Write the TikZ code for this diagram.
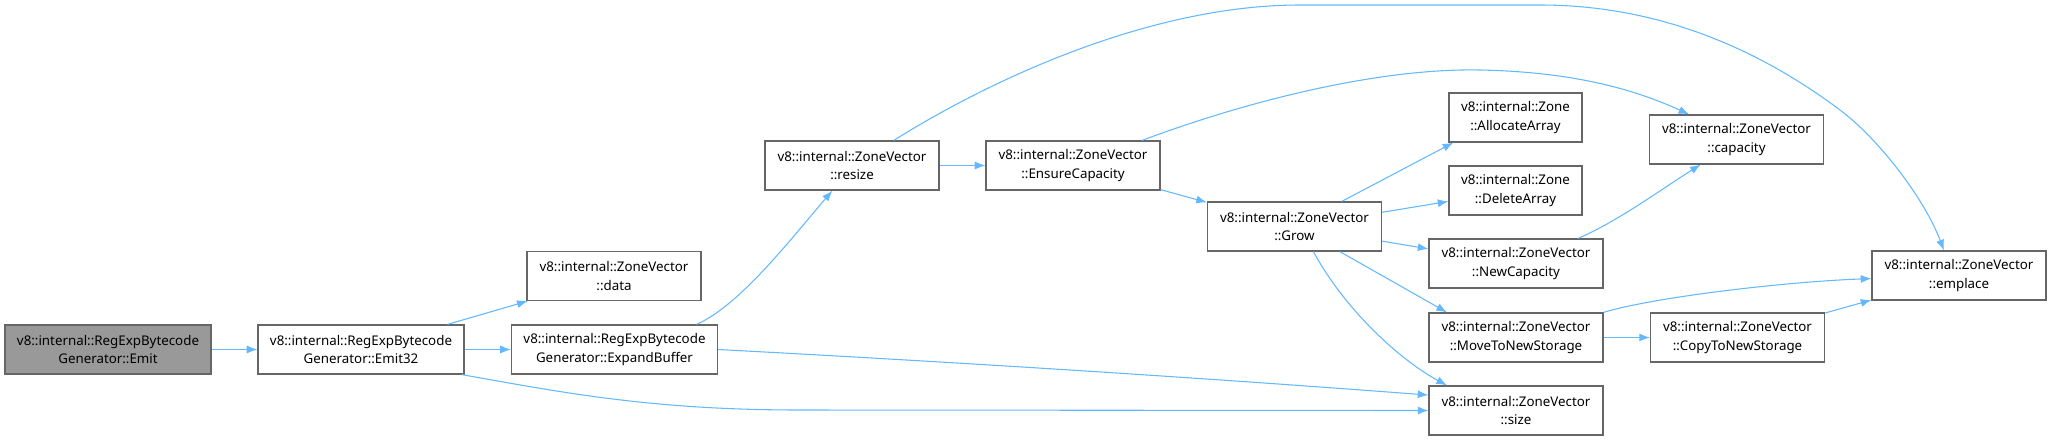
\documentclass[tikz,border=0pt]{standalone}
\usepackage{fontspec}
\setmainfont{Noto Sans}
\usepackage{xcolor}
\usetikzlibrary{arrows.meta}

\definecolor{callblue}{RGB}{99,184,255}
\definecolor{boxgray}{RGB}{102,102,102}
\definecolor{rootgray}{RGB}{153,153,153}

\begin{document}
\begin{tikzpicture}[x=0.75pt, y=-0.75pt,
  fn/.style={draw=boxgray, line width=0.9pt, fill=white, align=center,
    minimum height=36.75pt, inner sep=1pt, font=\fontsize{10}{14}\selectfont},
  fnwide/.style={fn, minimum width=154.5pt},
  fnmid/.style={fn, minimum width=130.5pt},
  fnnarrow/.style={fn, minimum width=99.75pt},
  call/.style={draw=callblue, line width=0.8pt, -{Latex[length=8pt,width=6pt]}}]

\useasboundingbox (0,0) rectangle (2051,440);

\node[fnwide, fill=rootgray] (Emit) at (108,349.5) {v8::internal::RegExpBytecode\\Generator::Emit};
\node[fnwide] (Emit32) at (361,349.5) {v8::internal::RegExpBytecode\\Generator::Emit32};
\node[fnwide] (ExpandBuffer) at (614.5,349.5) {v8::internal::RegExpBytecode\\Generator::ExpandBuffer};
\node[fnmid] (data) at (614,276) {v8::internal::ZoneVector\\::data};
\node[fnmid] (resize) at (852,165.5) {v8::internal::ZoneVector\\::resize};
\node[fnmid] (EnsureCapacity) at (1073,165.5) {v8::internal::ZoneVector\\::EnsureCapacity};
\node[fnmid] (Grow) at (1294.5,226.5) {v8::internal::ZoneVector\\::Grow};
\node[fnnarrow] (AllocateArray) at (1515.5,117.5) {v8::internal::Zone\\::AllocateArray};
\node[fnnarrow] (DeleteArray) at (1515.5,190.5) {v8::internal::Zone\\::DeleteArray};
\node[fnmid] (NewCapacity) at (1516,263.5) {v8::internal::ZoneVector\\::NewCapacity};
\node[fnmid] (MoveToNewStorage) at (1516,337.5) {v8::internal::ZoneVector\\::MoveToNewStorage};
\node[fnmid] (size) at (1516,410.5) {v8::internal::ZoneVector\\::size};
\node[fnmid] (capacity) at (1736.5,139.5) {v8::internal::ZoneVector\\::capacity};
\node[fnmid] (CopyToNewStorage) at (1737.5,337.5) {v8::internal::ZoneVector\\::CopyToNewStorage};
\node[fnmid] (emplace) at (1959,275.5) {v8::internal::ZoneVector\\::emplace};

\draw[call] (Emit) -- (Emit32);
\draw[call] (Emit32) -- (data);
\draw[call] (Emit32) -- (ExpandBuffer);
\draw[call] (Emit32.-14) .. controls (560,392) and (650,410) .. (800,410) -- (size.west);

\draw[call] (ExpandBuffer.east) .. controls (954,362) and (1191,377) .. (size.170);
\draw[call] (ExpandBuffer.17) .. controls (740,305) and (790,240) .. (resize.232);

\draw[call] (resize) -- (EnsureCapacity);
\draw[call] (resize.31) .. controls (990,80) and (1150,5) .. (1300,5) -- (1540,5)
  .. controls (1660,5) and (1760,50) .. (1840,110)
  .. controls (1880,140) and (1925,200) .. (emplace.121);

\draw[call] (EnsureCapacity.20) .. controls (1250,100) and (1380,68) .. (1480,70)
  .. controls (1580,72) and (1640,92) .. (capacity.152);
\draw[call] (EnsureCapacity) -- (Grow);

\draw[call] (Grow.28) -- (AllocateArray.202);
\draw[call] (Grow) -- (DeleteArray);
\draw[call] (Grow) -- (NewCapacity);
\draw[call] (Grow.-29) -- (MoveToNewStorage.160);
\draw[call] (Grow.-53) .. controls (1345,310) and (1400,360) .. (size.160);

\draw[call] (NewCapacity.22) .. controls (1620,220) and (1660,190) .. (capacity.215);

\draw[call] (MoveToNewStorage.16) .. controls (1650,298) and (1780,282) .. (emplace.182);
\draw[call] (MoveToNewStorage) -- (CopyToNewStorage);
\draw[call] (CopyToNewStorage) -- (emplace);

\end{tikzpicture}
\end{document}
